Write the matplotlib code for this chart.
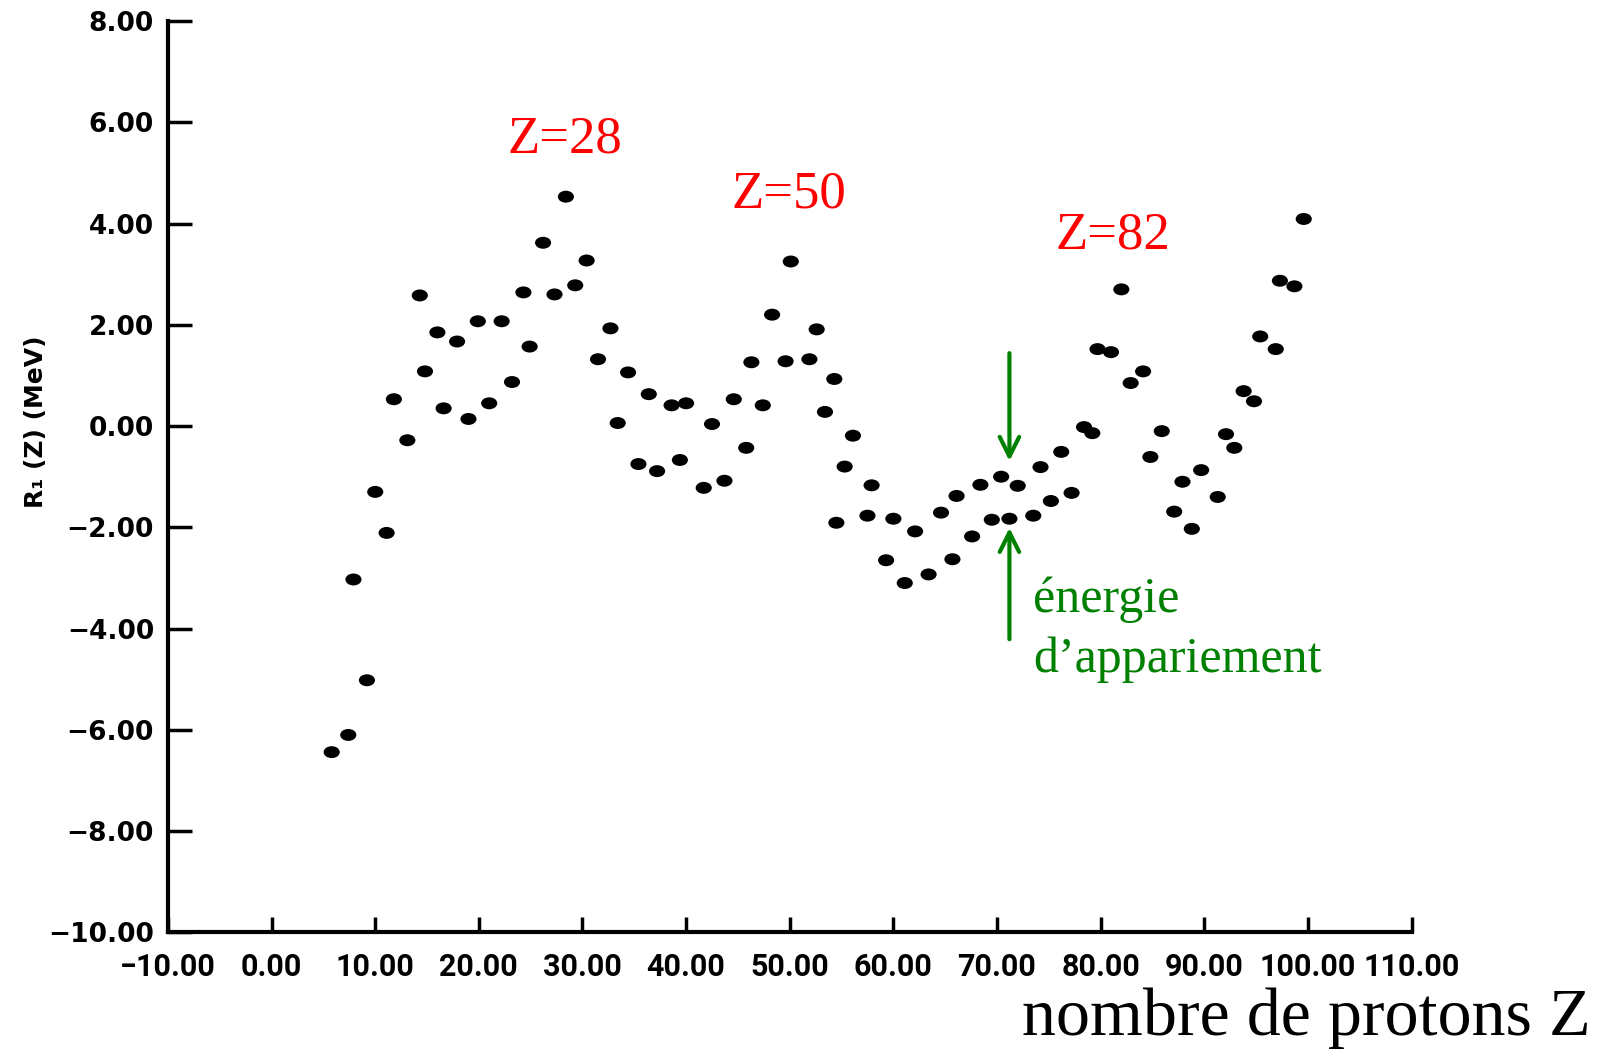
import matplotlib
matplotlib.use("Agg")
import matplotlib.pyplot as plt
from matplotlib.path import Path
from matplotlib.transforms import Affine2D
from matplotlib.ticker import FuncFormatter

# Data
Z = [5.8, 7.4, 7.9, 9.2, 10.0, 11.1, 11.8, 13.1, 14.3, 14.8, 16.0, 16.6, 17.9,
     19.0, 19.9, 21.0, 22.2, 23.2, 24.3, 24.9, 26.2, 27.3, 28.4, 29.3, 30.4,
     31.5, 32.7, 33.4, 34.4, 35.4, 36.4, 37.2, 38.6, 39.4, 40.0, 41.7, 42.5,
     43.7, 44.6, 45.8, 46.3, 47.4, 48.3, 49.6, 50.1, 51.9, 52.6, 53.4, 54.3,
     54.5, 55.3, 56.1, 57.5, 57.9, 59.3, 60.0, 61.1, 62.1, 63.4, 64.6, 65.7,
     66.1, 67.6, 68.4, 69.5, 70.4, 71.2, 72.0, 73.5, 74.2, 75.2, 76.2, 77.2,
     78.4, 79.2, 79.7, 81.0, 82.0, 82.9, 84.1, 84.8, 85.9, 87.1, 87.9, 88.8,
     89.7, 91.3, 92.1, 92.9, 93.8, 94.8, 95.4, 96.9, 97.3, 98.7, 99.6]
R1 = [-6.44, -6.10, -3.03, -5.02, -1.30, -2.11, 0.53, -0.28, 2.58, 1.08, 1.85,
      0.35, 1.67, 0.14, 2.07, 0.45, 2.07, 0.87, 2.64, 1.57, 3.62, 2.60, 4.53,
      2.78, 3.27, 1.32, 1.93, 0.06, 1.06, -0.75, 0.63, -0.89, 0.41, -0.67,
      0.45, -1.22, 0.04, -1.08, 0.53, -0.43, 1.26, 0.41, 2.20, 1.28, 3.25,
      1.32, 1.91, 0.28, 0.93, -1.91, -0.80, -0.19, -1.77, -1.17, -2.65, -1.83,
      -3.10, -2.08, -2.93, -1.71, -2.63, -1.38, -2.18, -1.16, -1.85, -1.00,
      -1.83, -1.18, -1.77, -0.81, -1.48, -0.51, -1.32, -0.02, -0.14, 1.52,
      1.46, 2.70, 0.85, 1.08, -0.61, -0.10, -1.69, -1.10, -2.03, -0.87, -1.40,
      -0.16, -0.43, 0.69, 0.49, 1.77, 1.52, 2.87, 2.76, 4.09]

x_ticks = [-10, 0, 10, 20, 30, 40, 50, 60, 70, 80, 90, 100, 110]
y_ticks = [-10, -8, -6, -4, -2, 0, 2, 4, 6, 8]

shell_labels = ["Z=28", "Z=50", "Z=82"]
shell_pos = [(28.3, 5.65), (49.9, 4.57), (81.2, 3.76)]

fig = plt.figure(figsize=(16.15, 10.5), dpi=100)
ax = fig.add_axes([0.104, 0.112, 0.770, 0.868])

ellipse = Path.unit_circle().transformed(Affine2D().scale(1.35, 1.0))
ax.scatter(Z, R1, marker=ellipse, s=135, color="black", edgecolors="none", zorder=3)

ax.set_xlim(-10, 110)
ax.set_ylim(-10, 8)
ax.set_xticks(x_ticks)
ax.set_yticks(y_ticks)

fmt = FuncFormatter(lambda v, p: ("\u2212%.2f" % abs(v)) if v < 0 else "%.2f" % v)
ax.xaxis.set_major_formatter(fmt)
ax.yaxis.set_major_formatter(fmt)

for s in ["top", "right"]:
    ax.spines[s].set_visible(False)
for s in ["left", "bottom"]:
    ax.spines[s].set_linewidth(3)

ax.tick_params(axis="y", direction="in", length=17, width=2.5, pad=10,
               labelsize=19)
ax.tick_params(axis="x", direction="in", length=11, width=2.5, pad=14,
               labelsize=22)
for lab in ax.get_yticklabels():
    lab.set_fontweight("bold")
for lab in ax.get_xticklabels():
    lab.set_fontweight("bold")
    lab.set_family(["Roboto", "DejaVu Sans"])

fig.text(0.0225, 0.598, "R\u2081 (Z) (MeV)", rotation=90, fontsize=18,
         fontweight="bold", ha="center", va="center")

for lab, (xx, yy) in zip(shell_labels, shell_pos):
    ax.text(xx, yy, lab, color="red", fontsize=38, family="Liberation Serif",
            ha="center", va="center")

green = "#008000"
ax.annotate("", xy=(71.2, -0.69), xytext=(71.2, 1.44),
            arrowprops=dict(arrowstyle="->", color=green, lw=3,
                            mutation_scale=35, shrinkA=0, shrinkB=0))
ax.annotate("", xy=(71.2, -2.01), xytext=(71.2, -4.21),
            arrowprops=dict(arrowstyle="->", color=green, lw=3,
                            mutation_scale=35, shrinkA=0, shrinkB=0))
ax.text(73.5, -3.43, "énergie", color=green, fontsize=36,
        family="Liberation Serif", ha="left", va="center")
ax.text(73.5, -4.61, "d\u2019appariement", color=green, fontsize=36,
        family="Liberation Serif", ha="left", va="center")

fig.text(0.985, 0.030, "nombre de protons Z", fontsize=49,
         family="Liberation Serif", ha="right", va="center")

fig.savefig("out.png", dpi=100, facecolor="white")
